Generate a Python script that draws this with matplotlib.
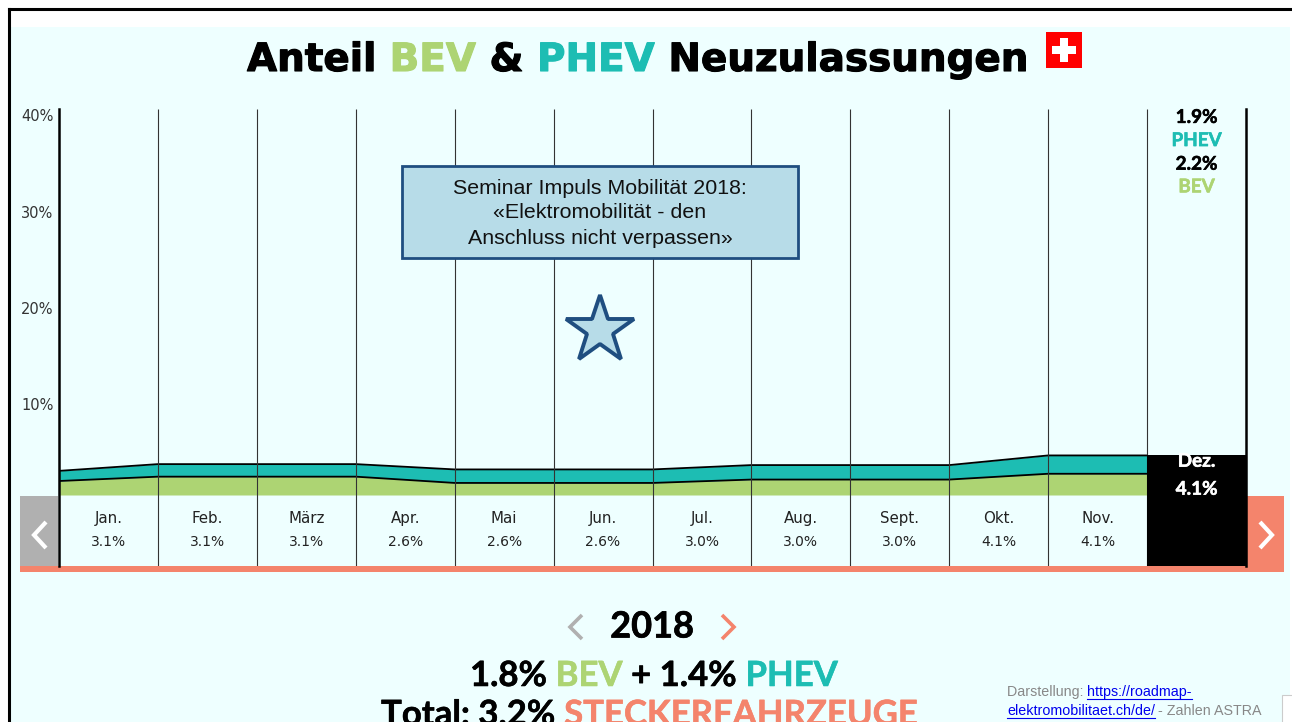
"""
Anteil BEV & PHEV Neuzulassungen, Schweiz 2018
"""
import matplotlib
matplotlib.use('Agg')
import matplotlib.pyplot as plt
import matplotlib.patheffects as pe
from matplotlib.patches import Rectangle
import numpy as np

months = ['Jan.', 'Feb.', 'März', 'Apr.', 'Mai', 'Jun.', 'Jul.', 'Aug.', 'Sept.', 'Okt.', 'Nov.', 'Dez.']
month_totals = ['3.1%', '3.1%', '3.1%', '2.6%', '2.6%', '2.6%', '3.0%', '3.0%', '3.0%', '4.1%', '4.1%', '4.1%']
# Area heights read at the left edge of every month column
bev_share = [1.45, 1.9, 1.9, 1.9, 1.25, 1.25, 1.25, 1.6, 1.6, 1.6, 2.2, 2.2]
phev_share = [1.05, 1.3, 1.3, 1.3, 1.4, 1.4, 1.4, 1.5, 1.5, 1.5, 1.9, 1.9]
y_ticks = [10, 20, 30, 40]

BG = '#EEFFFF'
GREEN = '#ADD473'
TEAL = '#1DBDB3'
SALMON = '#F4846C'
GREY = '#B0B0B0'
BOX = '#B7DCE8'
NAVY = '#1F4E80'
HEAD = 'Lato'
BODY = 'DejaVu Sans'
ARIAL = 'Liberation Sans'


def segments(ax, x, y, parts, size, family=HEAD, stroke=0.0):
    """Draw coloured text pieces one after the other, starting at pixel x"""
    renderer = ax.figure.canvas.get_renderer()
    for text, color in parts:
        t = ax.text(x, y, text, color=color, fontsize=size, fontweight='bold',
                    family=family, ha='left', va='center_baseline')
        if stroke:
            t.set_path_effects([pe.withStroke(linewidth=stroke, foreground=color)])
        # trailing blanks are measured through a stand-in character
        probe = ax.text(0, 0, text.replace(' ', '\u00a0'), fontsize=size, fontweight='bold', family=family)
        x += probe.get_window_extent(renderer).width
        probe.remove()
    return x


def chevron(ax, x, y, w, h, color, lw, right=True):
    sign = 1 if right else -1
    ax.plot([x - sign * w / 2, x + sign * w / 2, x - sign * w / 2], [y - h / 2, y, y + h / 2],
            color=color, lw=lw, solid_capstyle='butt', solid_joinstyle='miter')


def pixel_axes(zorder):
    a = fig.add_axes([0, 0, 1, 1], zorder=zorder)
    a.set_xlim(0, 1292)
    a.set_ylim(722, 0)
    a.axis('off')
    return a


fig = plt.figure(figsize=(12.92, 7.22), dpi=100, facecolor='white')

# Page furniture in pixel coordinates
page = pixel_axes(1)
page.add_patch(Rectangle((10, 27), 1280, 695, fc=BG, ec='none'))
page.plot([9, 9], [722, 9], color='black', lw=2.2)
page.plot([9, 1291], [9, 9], color='black', lw=2.2)

# Title
segments(page, 247, 56, [('Anteil ', 'black'), ('BEV', GREEN), (' & ', 'black'), ('PHEV', TEAL),
                         (' Neuzulassungen', 'black')], 28, family='DejaVu Sans', stroke=0.8)

# Swiss flag
page.add_patch(Rectangle((1046, 32), 36, 36, fc='#FF0000', ec='none'))
page.add_patch(Rectangle((1060, 38), 8, 24, fc='white', ec='none'))
page.add_patch(Rectangle((1052, 46), 24, 8, fc='white', ec='none'))

# Navigation buttons and bottom bar
page.add_patch(Rectangle((20, 496), 38, 70, fc=GREY, ec='none'))
page.add_patch(Rectangle((1247, 496), 37, 70, fc=SALMON, ec='none'))
page.add_patch(Rectangle((20, 566), 1264, 6, fc=SALMON, ec='none'))
chevron(page, 40, 535, 12, 26, 'white', 3, right=False)
chevron(page, 1266, 535, 12, 26, 'white', 3)

# Chart, 0% sits at pixel 495 and 9.65 px make one percent
top_px, bottom_px, left_px, right_px = 109, 566, 59, 1246
ax = fig.add_axes([left_px / 1292, 1 - bottom_px / 722, (right_px - left_px) / 1292, (bottom_px - top_px) / 722],
                  zorder=2)
ax.patch.set_alpha(0)
ax.set_xlim(0, 12)
y_floor = -(bottom_px - 495) / 9.65
ax.set_ylim(y_floor, 40 + (495 - 386 - top_px) / 9.65)

pos = np.arange(12)
bev = np.array(bev_share)
total = bev + np.array(phev_share)
ax.fill_between(pos, 0, bev, color=GREEN, lw=0, zorder=1)
ax.fill_between(pos, bev, total, color=TEAL, lw=0, zorder=1)
ax.plot(pos, bev, color='black', lw=1.3, zorder=2)
ax.plot(pos, total, color='black', lw=1.3, zorder=2)
ax.vlines(pos[1:], y_floor, 40, color='#333333', lw=0.8, zorder=3)

# Selected month
bar = ax.bar(11, total[11] - y_floor, bottom=y_floor, width=1, align='edge', color='black', lw=0, zorder=4)[0]

for i, (m, v) in enumerate(zip(months, month_totals)):
    if i == 11:
        for text, y in [(m, 3.5), (v, 0.6)]:
            t = ax.text(i + 0.5, y, text, ha='center', va='center', color='white', family=HEAD,
                        fontsize=13.6, fontweight='bold', zorder=5)
            t.set_path_effects([pe.withStroke(linewidth=0.4, foreground='white')])
            t.set_clip_path(bar)
    else:
        ax.text(i + 0.5, -2.4, m, ha='center', va='center', color='#222222', family=BODY, fontsize=10.8, zorder=5)
        ax.text(i + 0.5, -4.9, v, ha='center', va='center', color='#222222', family=BODY, fontsize=10, zorder=5)

# Values of the selected month, top of the last column
dec_labels = [('1.9%', 'black', 39.13), ('PHEV', TEAL, 36.73), ('2.2%', 'black', 34.28), ('BEV', GREEN, 31.93)]
for text, color, y in dec_labels:
    t = ax.text(11.5, y, text, ha='center', va='center', color=color, family=HEAD, fontsize=13.6,
                fontweight='bold', zorder=5)
    t.set_path_effects([pe.withStroke(linewidth=0.4, foreground=color)])

ax.set_xticks([])
ax.set_yticks(y_ticks)
ax.set_yticklabels([f'{v}%' for v in y_ticks], family=BODY, fontsize=10.5, color='#333333', va='top')
ax.tick_params(axis='y', length=0, pad=4)
for side in ['top', 'bottom']:
    ax.spines[side].set_visible(False)
for side in ['left', 'right']:
    ax.spines[side].set_linewidth(1.8)
    ax.spines[side].set_color('black')

# Seminar note and star sit above the chart
overlay = pixel_axes(3)
overlay.add_patch(Rectangle((402, 166), 396, 92, fc=BOX, ec=NAVY, lw=2))
note = ['Seminar Impuls Mobilität 2018:', '«Elektromobilität - den', 'Anschluss nicht verpassen»']
for line, y in zip(note, [188, 212, 238]):
    overlay.text(600, y, line, ha='center', va='center', family=ARIAL, fontsize=15.4, color='#111111')
overlay.plot([599.5], [330], marker='*', ms=51, mfc=BOX, mec=NAVY, mew=2.8)

# Year selector and yearly totals
t = overlay.text(652, 627, '2018', ha='center', va='center', family=HEAD, fontsize=26, fontweight='bold', color='black')
t.set_path_effects([pe.withStroke(linewidth=0.5, foreground='black')])
chevron(overlay, 576, 627, 12, 24, GREY, 2.6, right=False)
chevron(overlay, 728, 627, 12, 24, SALMON, 2.6)
segments(overlay, 470, 673, [('1.8% ', 'black'), ('BEV', GREEN), (' + 1.4% ', 'black'), ('PHEV', TEAL)], 25, stroke=0.4)
segments(overlay, 381, 712, [('Total: 3.2% ', 'black'), ('STECKERFAHRZEUGE', SALMON)], 25, stroke=0.4)

# Source note
overlay.text(1007, 692, 'Darstellung: ', ha='left', va='center', family=ARIAL, fontsize=10.3, color='#888888')
overlay.text(1087, 692, 'https://roadmap-', ha='left', va='center', family=ARIAL, fontsize=10.3, color='#0000EE')
overlay.plot([1087, 1192], [699, 699], color='#0000EE', lw=0.8)
overlay.text(1007, 711, 'elektromobilitaet.ch/de/', ha='left', va='center', family=ARIAL, fontsize=10.3, color='#0000EE')
overlay.plot([1007, 1155], [718, 718], color='#0000EE', lw=0.8)
overlay.text(1158, 711, '- Zahlen ASTRA', ha='left', va='center', family=ARIAL, fontsize=10.3, color='#888888')
overlay.add_patch(Rectangle((1282, 695), 12, 30, fc='white', ec='#CCCCCC', lw=0.8))

fig.savefig('out.png', dpi=100)
